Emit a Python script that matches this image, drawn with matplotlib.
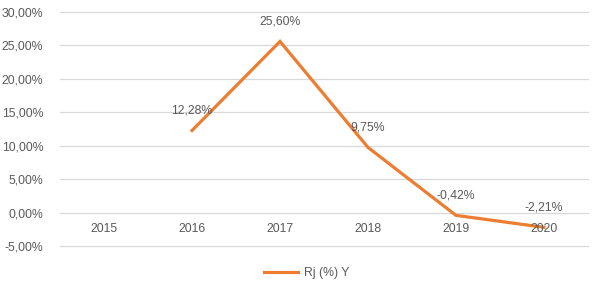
import matplotlib
matplotlib.use('Agg')
import matplotlib.pyplot as plt
import numpy as np

years = ["2015", "2016", "2017", "2018", "2019", "2020"]
rj_values = [np.nan, 12.28, 25.60, 9.75, -0.42, -2.21]
y_ticks = [-5, 0, 5, 10, 15, 20, 25, 30]
series_name = "Rj (%) Y"

ORANGE = "#ED7D31"
GRID = "#D9D9D9"
TEXT = "#595959"

plt.rcParams['font.family'] = ['Liberation Sans', 'DejaVu Sans']


def pct(v):
    return f"{v:.2f}%".replace(".", ",")


fig = plt.figure(figsize=(5.95, 2.87), dpi=100)
ax = fig.add_axes([0.101, 0.143, 0.887, 0.815])

x = np.arange(len(years))
ax.plot(x, rj_values, color=ORANGE, lw=2.3, solid_joinstyle='miter',
        label=series_name)

# data labels above points
for xi, v in zip(x, rj_values):
    if np.isnan(v):
        continue
    ax.annotate(pct(v), (xi, v), xytext=(0, 10), textcoords='offset points',
                ha='center', va='bottom', fontsize=8.8, color=TEXT)

# category labels sit under the zero line (Excel style)
for xi, lab in zip(x, years):
    ax.annotate(lab, (xi, 0), xytext=(0, -7.5), textcoords='offset points',
                ha='center', va='top', fontsize=8.8, color=TEXT)

ax.set_xlim(-0.5, len(years) - 0.5)
ax.set_ylim(-5, 30)
ax.set_yticks(y_ticks)
ax.set_yticklabels([pct(t) for t in y_ticks], fontsize=8.8, color=TEXT)
ax.set_xticks([])
ax.tick_params(axis='y', length=0, pad=12)
for t in y_ticks:
    ax.axhline(t, color=GRID, lw=0.9, zorder=0, clip_on=False)
for s in ax.spines.values():
    s.set_visible(False)

fig.legend(loc='lower center', bbox_to_anchor=(0.515, -0.01), frameon=False,
           fontsize=8.8, labelcolor=TEXT, handlelength=2.8, handletextpad=0.5)

plt.savefig("out.png", dpi=100)
plt.close()
